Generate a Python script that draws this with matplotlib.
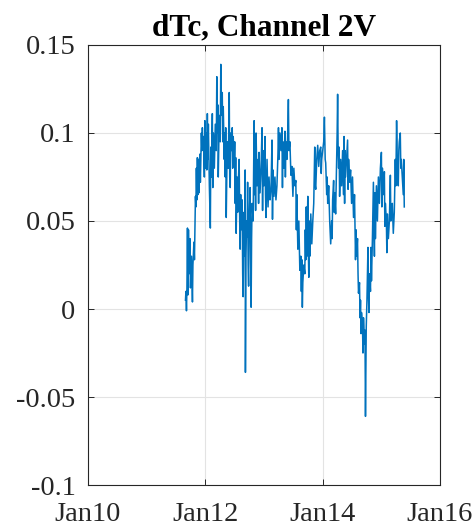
import numpy as np
import matplotlib
matplotlib.use("Agg")
from matplotlib import pyplot as plt
import matplotlib.dates as mdates
from datetime import datetime, timedelta

# time in years since Jan 2010, values of dTc
yrs = [1.661, 1.669, 1.678, 1.686, 1.695, 1.703, 1.712, 1.720, 1.737, 1.746,
       1.763, 1.780, 1.788, 1.805, 1.814, 1.831, 1.839, 1.847, 1.856, 1.864,
       1.873, 1.881, 1.890, 1.898, 1.907, 1.915, 1.932, 1.941, 1.949, 1.958,
       1.966, 1.983, 1.992, 2.000, 2.017, 2.025, 2.034, 2.042, 2.051, 2.068,
       2.085, 2.093, 2.102, 2.119, 2.127, 2.136, 2.153, 2.169, 2.186, 2.195,
       2.203, 2.212, 2.220, 2.237, 2.254, 2.263, 2.271, 2.288, 2.297, 2.305,
       2.322, 2.331, 2.339, 2.347, 2.356, 2.373, 2.390, 2.407, 2.415, 2.424,
       2.432, 2.441, 2.458, 2.466, 2.475, 2.492, 2.500, 2.508, 2.517, 2.525,
       2.542, 2.551, 2.559, 2.576, 2.585, 2.593, 2.602, 2.610, 2.627, 2.636,
       2.644, 2.653, 2.661, 2.669, 2.678, 2.683, 2.692, 2.703, 2.712, 2.720,
       2.729, 2.737, 2.746, 2.763, 2.771, 2.780, 2.788, 2.797, 2.814, 2.831,
       2.839, 2.847, 2.856, 2.864, 2.881, 2.898, 2.907, 2.915, 2.932, 2.949,
       2.966, 2.975, 2.983, 3.000, 3.017, 3.025, 3.034, 3.051, 3.068, 3.085,
       3.102, 3.119, 3.136, 3.144, 3.153, 3.169, 3.186, 3.203, 3.220, 3.237,
       3.246, 3.254, 3.271, 3.288, 3.305, 3.314, 3.322, 3.339, 3.356, 3.364,
       3.373, 3.390, 3.407, 3.415, 3.424, 3.441, 3.458, 3.475, 3.492, 3.508,
       3.525, 3.542, 3.551, 3.559, 3.576, 3.593, 3.610, 3.627, 3.636, 3.644,
       3.653, 3.661, 3.678, 3.695, 3.703, 3.712, 3.720, 3.729, 3.746, 3.754,
       3.763, 3.771, 3.780, 3.797, 3.814, 3.831, 3.847, 3.864, 3.873, 3.881,
       3.898, 3.915, 3.932, 3.949, 3.966, 3.975, 3.983, 4.000, 4.017, 4.029,
       4.042, 4.051, 4.068, 4.076, 4.085, 4.102, 4.119, 4.136, 4.153, 4.161,
       4.169, 4.186, 4.195, 4.203, 4.220, 4.237, 4.246, 4.254, 4.263, 4.271,
       4.280, 4.288, 4.305, 4.322, 4.339, 4.356, 4.364, 4.373, 4.381, 4.390,
       4.407, 4.424, 4.432, 4.441, 4.458, 4.475, 4.492, 4.508, 4.525, 4.542,
       4.559, 4.568, 4.576, 4.593, 4.602, 4.610, 4.627, 4.636, 4.644, 4.653,
       4.661, 4.678, 4.686, 4.695, 4.712, 4.720, 4.729, 4.742, 4.754, 4.763,
       4.771, 4.780, 4.788, 4.797, 4.814, 4.822, 4.831, 4.847, 4.864, 4.873,
       4.881, 4.890, 4.898, 4.915, 4.932, 4.949, 4.966, 4.983, 5.000, 5.008,
       5.017, 5.034, 5.051, 5.059, 5.068, 5.085, 5.093, 5.102, 5.119, 5.136,
       5.153, 5.161, 5.169, 5.186, 5.203, 5.220, 5.237, 5.246, 5.254, 5.259,
       5.271, 5.288, 5.297, 5.305, 5.322, 5.331, 5.339, 5.356, 5.373, 5.381,
       5.390]

dtc = [0.005, 0.010, -0.001, 0.012, 0.046, 0.008, 0.045, 0.020, 0.040, 0.012,
       0.030, 0.004, 0.025, 0.038, 0.028, 0.064, 0.058, 0.080, 0.062, 0.086,
       0.065, 0.085, 0.066, 0.080, 0.088, 0.072, 0.100, 0.090, 0.103, 0.092,
       0.098, 0.075, 0.107, 0.080, 0.100, 0.079, 0.111, 0.085, 0.105, 0.070,
       0.046, 0.092, 0.075, 0.111, 0.069, 0.100, 0.080, 0.105, 0.090, 0.132,
       0.100, 0.116, 0.075, 0.110, 0.095, 0.139, 0.110, 0.123, 0.095, 0.115,
       0.085, 0.100, 0.075, 0.103, 0.052, 0.095, 0.080, 0.123, 0.075, 0.069,
       0.100, 0.090, 0.103, 0.080, 0.098, 0.081, 0.095, 0.060, 0.086, 0.043,
       0.075, 0.055, 0.070, 0.085, 0.050, 0.034, 0.065, 0.045, 0.062, 0.020,
       0.007, 0.040, 0.055, 0.030, 0.079, -0.036, 0.030, 0.050, 0.041, 0.072,
       0.025, 0.013, 0.050, 0.069, 0.030, 0.001, 0.040, 0.060, 0.050, 0.107,
       0.065, 0.090, 0.056, 0.100, 0.070, 0.085, 0.060, 0.089, 0.066, 0.080,
       0.103, 0.056, 0.090, 0.070, 0.098, 0.065, 0.052, 0.085, 0.058, 0.075,
       0.062, 0.068, 0.096, 0.051, 0.079, 0.064, 0.075, 0.062, 0.070, 0.088,
       0.103, 0.085, 0.100, 0.090, 0.103, 0.069, 0.095, 0.080, 0.101, 0.075,
       0.095, 0.085, 0.105, 0.119, 0.090, 0.095, 0.076, 0.081, 0.064, 0.080,
       0.070, 0.073, 0.045, 0.065, 0.034, 0.050, 0.022, 0.030, 0.010, 0.028,
       0.001, 0.015, 0.025, 0.020, 0.045, 0.028, 0.058, 0.030, 0.064, 0.035,
       0.018, 0.050, 0.030, 0.054, 0.037, 0.050, 0.060, 0.092, 0.070, 0.068,
       0.085, 0.093, 0.081, 0.090, 0.092, 0.077, 0.085, 0.090, 0.095, 0.109,
       0.085, 0.083, 0.065, 0.075, 0.060, 0.070, 0.050, 0.037, 0.050, 0.040,
       0.062, 0.073, 0.055, 0.066, 0.054, 0.085, 0.100, 0.122, 0.090, 0.080,
       0.092, 0.064, 0.085, 0.070, 0.090, 0.065, 0.098, 0.060, 0.090, 0.075,
       0.085, 0.096, 0.068, 0.085, 0.072, 0.079, 0.060, 0.075, 0.052, 0.065,
       0.028, 0.045, 0.030, 0.040, 0.020, 0.009, 0.015, -0.005, 0.005, -0.014,
       -0.002, -0.010, -0.025, -0.005, -0.020, -0.012, -0.061, -0.010, 0.005, 0.020,
       0.035, 0.007, -0.002, 0.020, 0.010, 0.035, 0.016, 0.040, 0.072, 0.050,
       0.030, 0.066, 0.040, 0.070, 0.050, 0.075, 0.060, 0.080, 0.089, 0.058,
       0.080, 0.065, 0.078, 0.047, 0.060, 0.050, 0.032, 0.054, 0.040, 0.050,
       0.076, 0.050, 0.052, 0.060, 0.043, 0.055, 0.085, 0.070, 0.095, 0.107,
       0.085, 0.070, 0.090, 0.095, 0.100, 0.080, 0.085, 0.075, 0.065, 0.085,
       0.058]

tick_years = [2010, 2012, 2014, 2016]
tick_labels = ["Jan10", "Jan12", "Jan14", "Jan16"]
yticks = [-0.1, -0.05, 0, 0.05, 0.1, 0.15]
ylabels = ["-0.1", "-0.05", "0", "0.05", "0.1", "0.15"]

plt.rcParams['font.family'] = ['Liberation Serif', 'DejaVu Serif']

t0 = datetime(2010, 1, 1)
dates = [t0 + timedelta(days=y * 365.25) for y in yrs]

fig = plt.figure(figsize=(4.77, 5.30), dpi=100)
ax = fig.add_axes([0.1845, 0.0849, 0.7379, 0.8302])

ax.plot(dates, dtc, color="#0072BD", lw=1.1)

ax.set_xlim(datetime(2010, 1, 1), datetime(2016, 1, 1))
ax.set_ylim(-0.1, 0.15)
ax.set_xticks([datetime(y, 1, 1) for y in tick_years])
ax.set_xticklabels(tick_labels)
ax.set_yticks(yticks)
ax.set_yticklabels(ylabels)

ax.grid(True, color="#e3e3e3", lw=0.8)
ax.set_axisbelow(True)
for s in ax.spines.values():
    s.set_color("#262626")
    s.set_linewidth(0.8)
ax.tick_params(direction="in", length=4, width=0.7, color="#262626",
               labelsize=20.5, top=True, right=True, labelcolor="#262626")
ax.tick_params(axis="y", pad=9)
ax.tick_params(axis="x", pad=12)

ax.set_title("dTc, Channel 2V", fontsize=22.5, fontweight="bold", pad=7)

fig.savefig("out.png", dpi=100)
